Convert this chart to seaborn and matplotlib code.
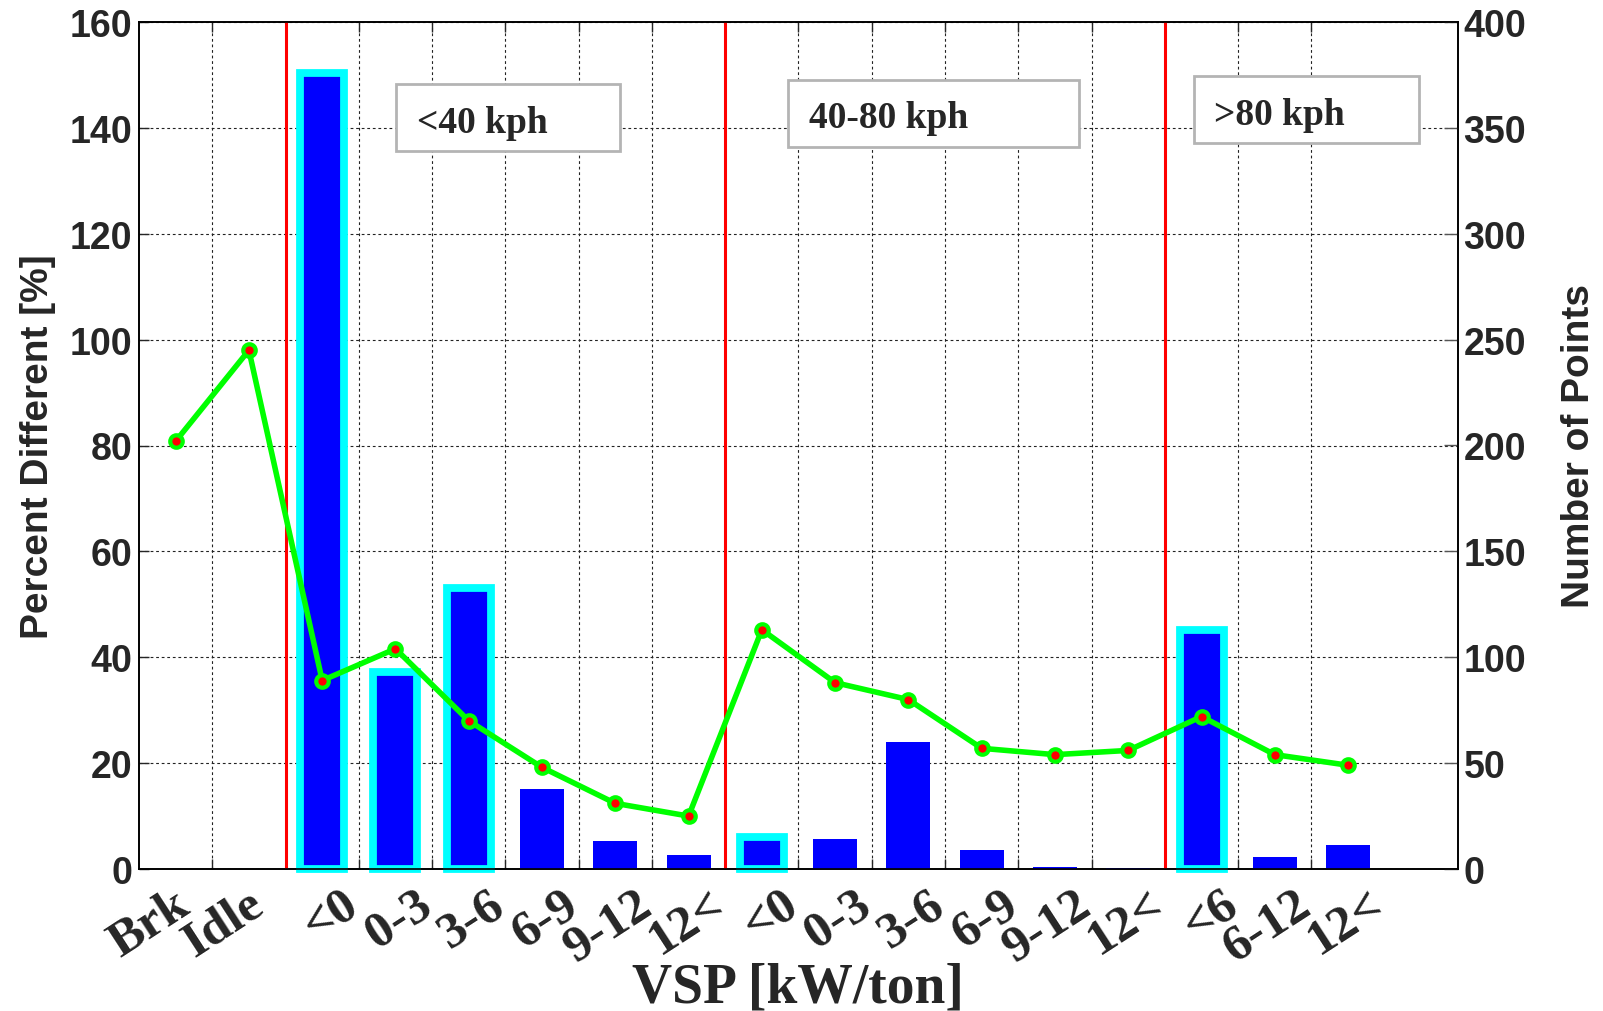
import numpy as np
import pandas as pd
import matplotlib
matplotlib.use("Agg")
import matplotlib.pyplot as plt
import seaborn as sns
from matplotlib.transforms import ScaledTranslation
from matplotlib.patches import Rectangle

# ---------------- data ----------------
categories = ["Brk", "Idle", "<0", "0-3", "3-6", "6-9", "9-12", "12<",
              "<0", "0-3", "3-6", "6-9", "9-12", "12<", "<6", "6-12", "12<"]
percent_different = [0, 0, 150.4, 37.2, 53.0, 15.1, 5.2, 2.6,
                     6.0, 5.7, 23.9, 3.5, 0.4, 0.2, 45.2, 2.3, 4.5]
number_of_points = [202, 245, 89, 104, 70, 48, 31, 25,
                    113, 88, 80, 57, 54, 56, 72, 54, 49]
highlighted = [False, False, True, True, True, False, False, False,
               True, False, False, False, False, False, True, False, False]
speed_groups = ["<40 kph", "40-80 kph", ">80 kph"]
group_first_index = [2, 8, 14]
left_ticks = [0, 20, 40, 60, 80, 100, 120, 140, 160]
right_ticks = [0, 50, 100, 150, 200, 250, 300, 350, 400]

positions = np.arange(1, len(categories) + 1)
df = pd.DataFrame({"pos": positions, "cat": categories,
                   "pct": percent_different, "pts": number_of_points})

# ---------------- style ----------------
sns.set_style("white")
plt.rcParams["font.family"] = ["Liberation Sans", "DejaVu Sans"]
SANS = ["Liberation Sans", "DejaVu Sans"]
SERIF = ["Liberation Serif", "DejaVu Serif"]

W, H = 1603, 1012
fig = plt.figure(figsize=(W / 100, H / 100), dpi=100)
fig.patch.set_facecolor("white")
ax = fig.add_axes([139 / W, 1 - 870 / H, 1319 / W, 847 / H])
ax2 = ax.twinx()

# bars (percent different)
sns.barplot(data=df, x="pos", y="pct", native_scale=True, width=0.6,
            color="#0000FF", saturation=1, errorbar=None, ax=ax,
            linewidth=0, zorder=3)
for patch, hl in zip(ax.patches, highlighted):
    if hl:
        patch.set_edgecolor("#00FFFF")
        patch.set_linewidth(5.6)
        patch.set_clip_on(False)

# group separators
for gi in group_first_index:
    ax.axvline(positions[gi] - 0.5, color="#FF0000", lw=2.2, zorder=4)

# line (number of points)
sns.lineplot(data=df, x="pos", y="pts", ax=ax2, color="#00FF00", lw=4,
             marker="o", markersize=9, markerfacecolor="#FF0000",
             markeredgecolor="#00FF00", markeredgewidth=3, zorder=5)

# axes limits / ticks
ax.set_xlim(0.5, len(categories) + 1.5)
ax.set_ylim(0, 160)
ax2.set_ylim(0, 400)
ax.set_yticks(left_ticks)
ax2.set_yticks(right_ticks)

grid_x = np.arange(1.5, len(categories), 1.0)
ax.set_xticks(grid_x)
ax.set_xticklabels([""] * len(grid_x))
ax.set_xticks(positions, categories, minor=True)

ax.grid(True, which="major", axis="both", color="#222222", lw=0.8,
        linestyle=(0, (2.5, 2.5)))
ax.set_axisbelow(True)
ax2.grid(False)

ax.tick_params(axis="x", which="major", direction="in", length=7,
               top=True, bottom=True, width=1)
ax.tick_params(axis="x", which="minor", length=0, pad=0)
ax.tick_params(axis="y", direction="in", length=7, width=1, pad=5,
               left=True, right=False)
ax2.tick_params(axis="y", direction="in", length=10, width=1, pad=4,
                color="#555555")

for lab in ax.get_yticklabels() + ax2.get_yticklabels():
    lab.set_fontfamily(SANS)
    lab.set_fontweight("bold")
    lab.set_fontsize(27)

for i, lab in enumerate(ax.get_xticklabels(minor=True)):
    dx = 0.10 if i < group_first_index[0] else 0.32
    offset = ScaledTranslation(dx, -0.31, fig.dpi_scale_trans)
    lab.set_fontfamily(SERIF)
    lab.set_fontweight("bold")
    lab.set_fontsize(37)
    lab.set_rotation(33)
    lab.set_rotation_mode("anchor")
    lab.set_ha("right")
    lab.set_va("center")
    lab.set_transform(lab.get_transform() + offset)

for sp in list(ax.spines.values()) + list(ax2.spines.values()):
    sp.set_color("black")
    sp.set_linewidth(1.2)

# labels
ax.set_xlabel("")
ax.set_ylabel("Percent Different [%]", fontsize=28, fontweight="bold",
              family=SANS)
ax.yaxis.set_label_coords(-0.063, 0.5)
ax2.set_ylabel("Number of Points", fontsize=28, fontweight="bold",
               family=SANS, rotation=90)
ax2.yaxis.set_label_coords(1.078, 0.5)
fig.text(798 / W, (H - 1003) / H, "VSP [kW/ton]", ha="center",
         va="baseline", fontsize=40, fontweight="bold", family=SERIF)

# speed-group boxes
boxes = [(0.1948, 0.8477, 0.3647, 0.9268, 0.2108, 0.870),
         (0.4917, 0.8524, 0.7127, 0.9315, 0.5080, 0.876),
         (0.8000, 0.8570, 0.9704, 0.9360, 0.8150, 0.8796)]
for (x0, y0, x1, y1, tx, ty), name in zip(boxes, speed_groups):
    ax2.add_patch(Rectangle((x0, y0), x1 - x0, y1 - y0,
                            transform=ax2.transAxes, facecolor="white",
                            edgecolor="#b4b4b4", lw=2, zorder=10))
    ax2.text(tx, ty, name, transform=ax2.transAxes, ha="left",
             va="baseline", fontsize=27, fontweight="bold", family=SERIF,
             zorder=11)

fig.savefig("out.png", dpi=100, facecolor="white")
